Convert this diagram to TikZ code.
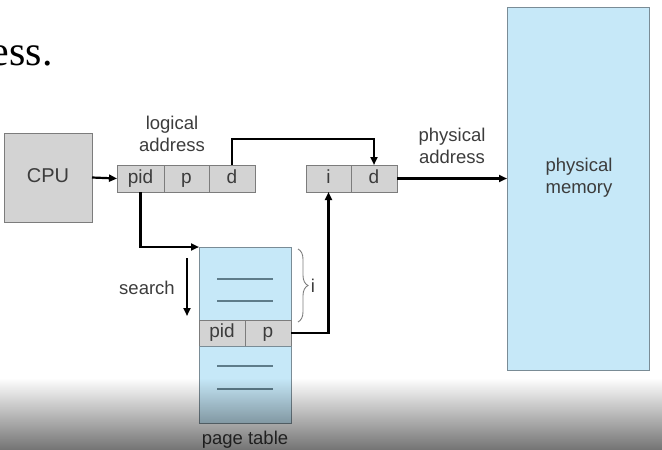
\documentclass[tikz,border=0pt]{standalone}
\usepackage{fontspec}
\setmainfont{Liberation Sans}
\newfontfamily\slidefont{Liberation Serif}
\usetikzlibrary{positioning,arrows.meta,decorations.pathreplacing,fadings}

\definecolor{boxgray}{HTML}{D3D3D3}
\definecolor{boxedge}{HTML}{7C7C7C}
\definecolor{memblue}{HTML}{C6E8F8}
\definecolor{memedge}{HTML}{7A8C96}
\definecolor{rowline}{HTML}{5E7C8A}
\definecolor{labelgray}{HTML}{3C3C3C}

\tikzfading[name=fadedown, top color=transparent!100, bottom color=transparent!0]

\tikzset{
  cell/.style={draw=boxedge, fill=boxgray, line width=1pt, inner sep=0pt, outer sep=0pt,
    minimum height=27pt, text height=13.5pt, text depth=4pt, text=labelgray,
    font=\fontsize{19}{19}\selectfont},
  block/.style={draw=memedge, fill=memblue, line width=1pt, inner sep=0pt, outer sep=0pt,
    minimum width=92pt, anchor=north west},
  lbl/.style={text=labelgray, align=center, font=\fontsize{18.5}{22}\selectfont},
  link/.style={line width=2.2pt, -{Triangle[length=8pt,width=7pt]}},
}

\begin{document}
\begin{tikzpicture}[x=1pt,y=-1pt]
    \useasboundingbox (0,0) rectangle (662,450);
    % slide text
    \node (slide) [anchor=base east, inner sep=0pt, text=black]
        at (53,65) {\slidefont\fontsize{42}{42}\selectfont ess.};

    % CPU
    \node (cpu) [cell, anchor=north west, minimum width=88pt, minimum height=89pt,
        font=\fontsize{20}{20}\selectfont] at (4,133) {CPU};

    % logical address
    \node (lpid) [cell, anchor=north west, minimum width=47pt] at (117,165) {pid};
    \node (lp) [cell, minimum width=45pt, right=0pt of lpid] {p};
    \node (ld) [cell, minimum width=46pt, right=0pt of lp] {d};
    \node (laddr) [lbl] at (172,134) {logical\\address};

    % physical address
    \node (pi) [cell, anchor=north west, minimum width=45pt] at (306,165) {i};
    \node (pd) [cell, minimum width=46pt, right=0pt of pi] {d};
    \node (paddr) [lbl] at (452,146) {physical\\address};

    % physical memory
    \node (mem) [block, minimum width=142pt, minimum height=363pt] at (507,7) {};
    \node (memtext) [lbl] at (579,178) {physical\\memory};

    % page table
    \node (ptop) [block, minimum height=73pt] at (199,247) {};
    \node (epid) [cell, anchor=north west, minimum width=46pt, minimum height=26pt] at (199,320) {pid};
    \node (ep) [cell, minimum width=46pt, minimum height=26pt, right=0pt of epid] {p};
    \node (pbot) [block, minimum height=77pt] at (199,346) {};
    \foreach \y in {279,301,366,389}
        \draw [rowline, line width=1.5pt] (217,\y) -- (273,\y);
    \node (ptab) [lbl] at (245,440) {page table};

    % search
    \coordinate (s1) at (187,258);
    \coordinate (s2) at (187,316);
    \draw [link] (s1) -- (s2);
    \node (search) [lbl] at (147,288) {search};

    % brace i
    \draw [boxedge, line width=0.9pt, decorate, decoration={brace, amplitude=10pt}]
        (298,249) -- (298,322) node (bi) [midway, right=9pt, lbl] {i};

    % connectors
    \draw [link] (cpu.east) -- (lpid.west);
    \draw [link] (ld.north) -- ++(0,-26) -| (pd.north);
    \draw [link] (lpid.south) |- (ptop.north west);
    \draw [link] (ep.east) -| (pi.south);
    \draw [link] (pd.east) -- (mem.west |- pd.east);

    % video overlay
    \fill [black, opacity=0.55, path fading=fadedown] (0,378) rectangle (662,450);
\end{tikzpicture}
\end{document}
